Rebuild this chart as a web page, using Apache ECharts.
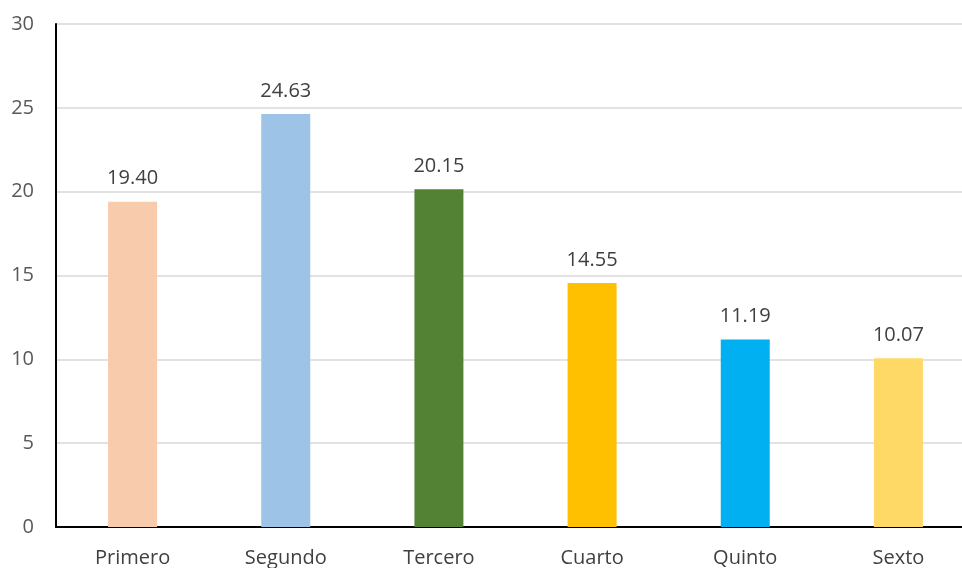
<!DOCTYPE html>
<html>
<head>
<meta charset="utf-8">
<script src="https://cdn.jsdelivr.net/npm/echarts@6/dist/echarts.min.js"></script>
<style>
  html, body { margin: 0; padding: 0; background: #fff; overflow: hidden; }
  #chart { width: 975px; height: 568px; }
</style>
</head>
<body>
<div id="chart"></div>
<script>
const categories = ['Primero', 'Segundo', 'Tercero', 'Cuarto', 'Quinto', 'Sexto'];
const values = [19.40, 24.63, 20.15, 14.55, 11.19, 10.07];
const barColors = ['#F8CBAD', '#9DC3E6', '#548235', '#FFC000', '#00B0F0', '#FFD966'];

// the plot runs a little past the right edge of the window, as in the original
const chart = echarts.init(document.getElementById('chart'));
const font = '"Open Sans", "Liberation Sans", sans-serif';

chart.setOption({
  animation: false,
  grid: { left: 56, top: 24, right: 0, height: 503, containLabel: false },
  xAxis: {
    type: 'category',
    data: categories,
    axisLine: { lineStyle: { color: '#000', width: 2 } },
    axisTick: { show: false },
    axisLabel: { color: '#404040', fontSize: 20, fontFamily: font, margin: 21 }
  },
  yAxis: {
    type: 'value',
    min: 0,
    max: 30,
    interval: 5,
    axisLine: { show: true, lineStyle: { color: '#000', width: 2 } },
    axisTick: { show: false },
    splitLine: { lineStyle: { color: '#D9D9D9', width: 1.5 } },
    axisLabel: { color: '#595959', fontSize: 20, fontFamily: font, margin: 22 }
  },
  series: [{
    type: 'bar',
    barWidth: 49,
    data: values.map((v, i) => ({ value: v, itemStyle: { color: barColors[i] } })),
    label: {
      show: true,
      position: 'top',
      distance: 13,
      formatter: p => p.value.toFixed(2),
      color: '#404040',
      fontSize: 20,
      fontFamily: font
    }
  }]
});
</script>
</body>
</html>
